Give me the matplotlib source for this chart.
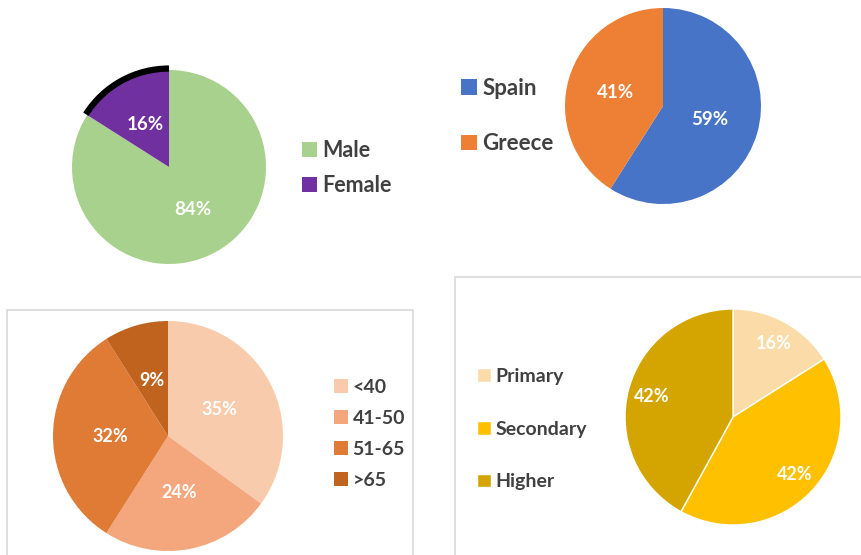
import numpy as np
import matplotlib.pyplot as plt
from matplotlib.patches import Rectangle, Arc

plt.rcParams['font.family'] = ['Lato', 'DejaVu Sans']

# datos de los cuatro graficos
sexo = ['Male', 'Female']
sexo_pct = [84, 16]
pais = ['Spain', 'Greece']
pais_pct = [59, 41]
edad = ['<40', '41-50', '51-65', '>65']
edad_pct = [35, 24, 32, 9]
estudios = ['Primary', 'Secondary', 'Higher']
estudios_pct = [16, 42, 42]

W, H = 861, 555
fig = plt.figure(figsize=(W / 100, H / 100), dpi=100)
fig.patch.set_facecolor('white')


def pct(v):
    return '%d%%' % round(v)


def eje_pie(cx, cy, r):
    # ejes cuadrados centrados en (cx, cy) en pixeles
    ax = fig.add_axes([(cx - r) / W, 1 - (cy + r) / H, 2 * r / W, 2 * r / H])
    ax.axis('off')
    return ax


def limites(ax):
    ax.set_xlim(-1, 1)
    ax.set_ylim(-1, 1)


def leyenda(wedges, labels, x, y, size, spacing):
    fig.legend(wedges, labels, loc='center left', bbox_to_anchor=(x / W, 1 - y / H),
               frameon=False, handlelength=0.7, handleheight=0.7, handletextpad=0.25,
               labelspacing=spacing, borderaxespad=0, borderpad=0,
               prop={'size': size, 'weight': 'bold'}, labelcolor='#404040')


# marcos de los graficos de abajo
fig.add_artist(Rectangle((7 / W, 1 - 560 / H), 406 / W, 250 / H, transform=fig.transFigure,
                         fill=False, edgecolor='#d9d9d9', lw=1.2))
fig.add_artist(Rectangle((455 / W, 1 - 560 / H), 420 / W, 283 / H, transform=fig.transFigure,
                         fill=False, edgecolor='#d9d9d9', lw=1.2))

# sexo
ax1 = eje_pie(169, 167, 97)
w1, t1, a1 = ax1.pie(sexo_pct, colors=['#a9d18e', '#7030a0'], startangle=90, counterclock=False,
                     autopct=pct, pctdistance=0.5, radius=1,
                     textprops={'color': 'white', 'fontsize': 13.5, 'weight': 'bold'})
arco = Arc((0, 0), 2.03, 2.03, theta1=90, theta2=90 + 360 * sexo_pct[1] / 100,
           color='black', lw=4.5)
arco.set_clip_on(False)
ax1.add_patch(arco)
limites(ax1)
leyenda(w1, sexo, 302, 168, 15.5, 0.65)

# pais
ax2 = eje_pie(663, 106, 98)
w2, t2, a2 = ax2.pie(pais_pct, colors=['#4874c8', '#ee8035'], startangle=90, counterclock=False,
                     autopct=pct, pctdistance=0.5,
                     textprops={'color': 'white', 'fontsize': 13.5, 'weight': 'bold'})
limites(ax2)
leyenda(w2, pais, 461, 116, 16, 1.55)

# edad
ax3 = eje_pie(168, 436, 115)
edad_col = ['#f8cbad', '#f4a67c', '#e07b36', '#c0631f']
w3, t3, a3 = ax3.pie(edad_pct, colors=edad_col, startangle=90, counterclock=False,
                     autopct=pct, pctdistance=0.5,
                     textprops={'color': 'white', 'fontsize': 13, 'weight': 'bold'})
limites(ax3)
leyenda(w3, edad, 334, 434, 14, 0.72)

# estudios
ax4 = eje_pie(733, 417, 108)
w4, t4, a4 = ax4.pie(estudios_pct, colors=['#fbdca8', '#ffc000', '#d4a500'], startangle=90,
                     counterclock=False, autopct=pct, pctdistance=0.78,
                     wedgeprops={'edgecolor': 'white', 'linewidth': 1},
                     textprops={'color': 'white', 'fontsize': 13, 'weight': 'bold'})
limites(ax4)
leyenda(w4, estudios, 477, 429, 14, 1.85)

fig.savefig('out.png', dpi=100)
